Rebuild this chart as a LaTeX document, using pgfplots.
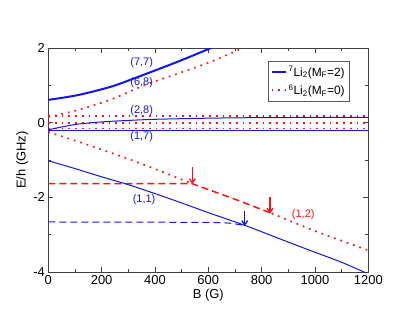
\documentclass[border=0pt]{standalone}
\usepackage{fontspec}
\setmainfont{Liberation Sans}
\usepackage{pgfplots}
\pgfplotsset{compat=1.18}
\usetikzlibrary{arrows.meta}
\definecolor{lblue}{RGB}{20,20,240}
\definecolor{lred}{RGB}{250,20,20}
\tikzset{
  dots/.style={line width=1.7bp, dash pattern=on 1.7bp off 5bp},
  dsh/.style={dash pattern=on 7bp off 4bp},
  arr/.style={line width=1.3bp, -{Straight Barb[length=4bp,width=6bp]}},
}
\begin{document}
\begin{tikzpicture}
\path (-48.3bp,-49bp) rectangle (366.7bp,272bp);
\begin{axis}[
  scale only axis, width=320bp, height=224bp,
  xmin=0, xmax=1200, ymin=-4, ymax=2,
  xtick={0,200,...,1200}, ytick={-4,-2,0,2},
  minor x tick num=1, minor y tick num=1,
  major tick length=5bp, minor tick length=3bp,
  tick align=inside,
  axis line style={draw=black!75, line width=0.9bp},
  every tick/.style={black!75, line width=0.8bp},
  tick label style={font=\fontsize{13}{13}\selectfont},
  /pgf/number format/assume math mode=true,
  /pgf/number format/1000 sep={},
  label style={font=\fontsize{13}{13}\selectfont},
  xlabel={B (G)}, ylabel={E/h (GHz)},
  xlabel style={at={(axis description cs:0.5,-0.103)}, anchor=center},
  ylabel style={at={(axis description cs:-0.081,0.5)}, anchor=center},
  legend style={at={(rel axis cs:0.943,0.942)}, anchor=north east,
    draw=black!65, line width=0.7bp, font=\fontsize{12}{14}\selectfont,
    inner sep=3bp, row sep=3bp},
  legend cell align=left,
  legend image code/.code={\draw[#1] (0bp,0bp) -- (14bp,0bp);},
  clip=true,
]
\addlegendimage{color=lblue, line width=1.2bp}
\addlegendentry{\textsuperscript{7}Li\textsubscript{2}(M\textsubscript{F}=2)}
\addlegendimage{color=lred, dots}
\addlegendentry{\textsuperscript{6}Li\textsubscript{2}(M\textsubscript{F}=0)}

% arrows
\addplot[color=lred, arr, forget plot] coordinates {(540,-1.2)(540,-1.64)};
\addplot[color=lred, arr, forget plot] coordinates {(831,-1.98)(831,-2.43)};
\addplot[color=lblue, arr, forget plot] coordinates {(737,-2.36)(737,-2.76)};

% red dotted (6Li2)
\addplot[color=lred, dots, forget plot] coordinates {(0,0.17)(1200,0.17)};
\addplot[color=lred, dots, forget plot] coordinates {(0,0.0)(1200,0.0)};
\addplot[color=lred, dots, forget plot] coordinates {(0,-0.16)(1200,-0.16)};
\addplot[color=lred, dots, forget plot, smooth] coordinates {
  (0,0.15)(112,0.34)(238,0.63)(363,1.01)(488,1.32)(613,1.64)(725,1.99)(740,2.04)};
\addplot[color=lred, dots, forget plot, smooth] coordinates {
  (0,-0.25)(100,-0.48)(200,-0.72)(300,-0.97)(400,-1.24)(538,-1.63)};
\addplot[color=lred, dots, forget plot, smooth] coordinates {
  (838,-2.43)(1000,-2.9)(1200,-3.42)};
\addplot[color=lred, dsh, line width=1.5bp, forget plot] coordinates {
  (0,-1.63)(450,-1.63)(538,-1.63)(700,-2.05)(838,-2.43)};

% blue (7Li2)
\addplot[color=lblue, line width=1bp, forget plot] coordinates {(0,-0.21)(1200,-0.21)};
\addplot[color=lblue, line width=2bp, smooth, forget plot] coordinates {
  (0,0.61)(112,0.74)(238,0.97)(338,1.23)(488,1.64)(600,1.97)(615,2.02)};
\addplot[color=lblue, line width=1bp, smooth, forget plot] coordinates {
  (0,-0.19)(100,-0.05)(200,0.02)(300,0.06)(400,0.09)(600,0.12)(800,0.135)(1200,0.145)};
\addplot[color=lblue, line width=1bp, smooth, forget plot] coordinates {
  (0,-1.02)(100,-1.23)(200,-1.45)(300,-1.66)(400,-1.90)(500,-2.15)(600,-2.41)
  (737,-2.75)(900,-3.2)(1000,-3.47)(1100,-3.74)(1190,-4.02)};
\addplot[color=lblue, dsh, line width=1bp, forget plot] coordinates {
  (0,-2.66)(600,-2.67)(680,-2.69)(737,-2.75)};

% state labels
\begin{scope}[font=\fontsize{11}{11}\selectfont]
\node[lblue] at (axis cs:350,1.61) {(7,7)};
\node[lblue] at (axis cs:350,1.08) {(6,8)};
\node[lblue] at (axis cs:350,0.32) {(2,8)};
\node[lblue] at (axis cs:350,-0.37) {(1,7)};
\node[lblue] at (axis cs:359,-2.05) {(1,1)};
\node[lred] at (axis cs:956,-2.47) {(1,2)};
\end{scope}
\end{axis}
\end{tikzpicture}
\end{document}
